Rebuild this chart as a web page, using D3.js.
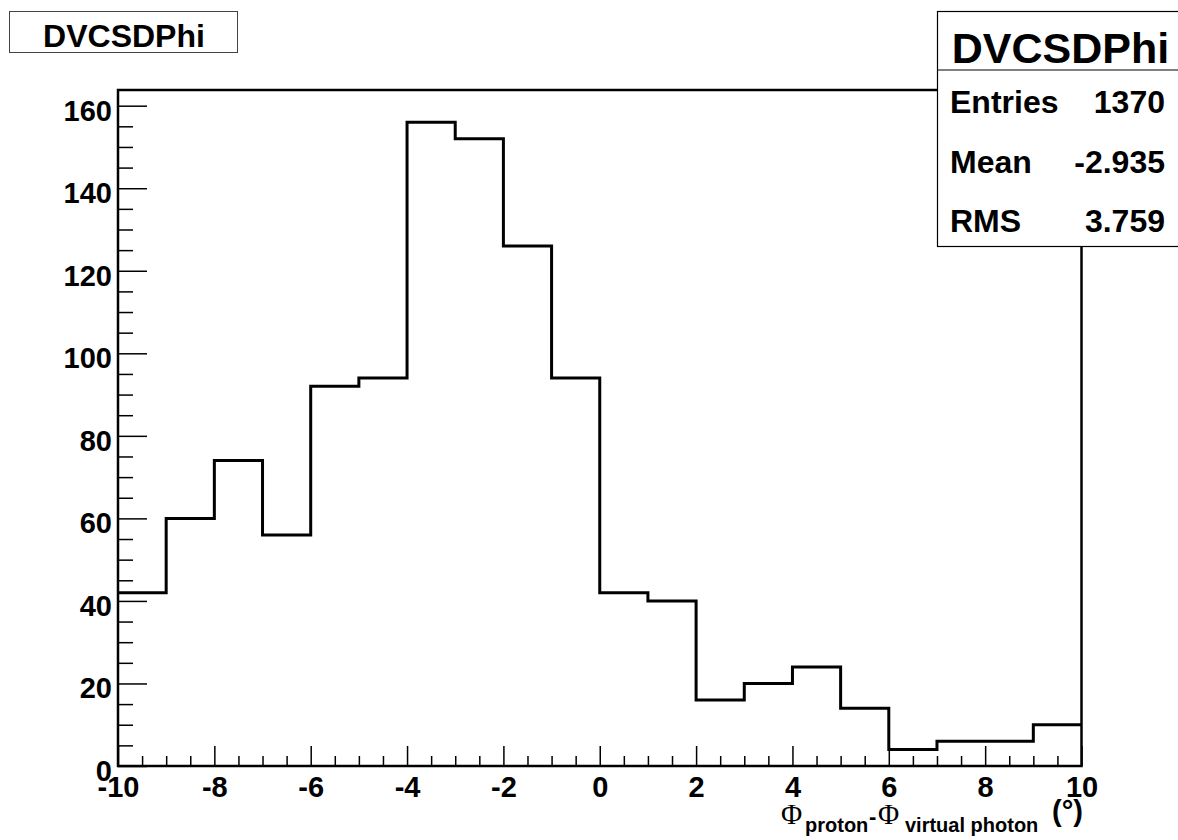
<!DOCTYPE html>
<html>
<head>
<meta charset="utf-8">
<script src="https://cdn.jsdelivr.net/npm/d3@7"></script>
<style>
  html, body { margin: 0; padding: 0; background: #fff; }
  svg { display: block; }
  text { font-family: "Liberation Sans", Arial, sans-serif; font-weight: bold; fill: #000; }
</style>
</head>
<body>
<svg id="chart" width="1178" height="840"></svg>
<script>
// ---- data ----
const binEdgesLow = [-10, -9, -8, -7, -6, -5, -4, -3, -2, -1, 0, 1, 2, 3, 4, 5, 6, 7, 8, 9];
const binCounts   = [42, 60, 74, 56, 92, 94, 156, 152, 126, 94, 42, 40, 16, 20, 24, 14, 4, 6, 6, 10];
const xMajorTicks = [-10, -8, -6, -4, -2, 0, 2, 4, 6, 8, 10];
const yMajorTicks = [0, 20, 40, 60, 80, 100, 120, 140, 160];
const histTitle = "DVCSDPhi";
const statLabels = ["Entries", "Mean", "RMS"];
const statValues = ["1370", "-2.935", "3.759"];

const xMin = -10, xMax = 10, binWidth = 1;
const yMax = 163.8;

const svg = d3.select("#chart");
const L = 118, R = 1081.5, T = 90, B = 766;

const x = d3.scaleLinear().domain([xMin, xMax]).range([L, R]);
const y = d3.scaleLinear().domain([0, yMax]).range([B, T]);

const xMinor = d3.range(xMin, xMax + 0.001, 0.5).filter(v => !xMajorTicks.includes(v));
const yMinor = d3.range(0, yMax, 5).filter(v => !yMajorTicks.includes(v));

// x axis
const gx = svg.append("g").attr("transform", `translate(0,${B})`);
gx.call(d3.axisBottom(x).tickValues(xMajorTicks).tickSizeInner(-20).tickSizeOuter(0).tickPadding(10)
  .tickFormat(d3.format("d")));
gx.select(".domain").remove();
gx.selectAll(".tick line").attr("stroke", "#000").attr("stroke-width", 1.5);
gx.selectAll(".tick text").style("font-size", "29px").style("font-family", "'Liberation Sans', Arial, sans-serif").style("font-weight", "bold")
  .text(d => d < 0 ? "-" + Math.abs(d) : d);

const gxm = svg.append("g").attr("transform", `translate(0,${B})`);
gxm.call(d3.axisBottom(x).tickValues(xMinor).tickSizeInner(-10).tickSizeOuter(0).tickFormat(""));
gxm.select(".domain").remove();
gxm.selectAll(".tick line").attr("stroke", "#000").attr("stroke-width", 1.5);

// y axis
const gy = svg.append("g").attr("transform", `translate(${L},0)`);
gy.call(d3.axisLeft(y).tickValues(yMajorTicks).tickSizeInner(-29).tickSizeOuter(0).tickPadding(6)
  .tickFormat(d3.format("d")));
gy.select(".domain").remove();
gy.selectAll(".tick line").attr("stroke", "#000").attr("stroke-width", 1.5);
gy.selectAll(".tick text").style("font-size", "29px").style("font-family", "'Liberation Sans', Arial, sans-serif").style("font-weight", "bold")
  .attr("dy", "0.5em");

const gym = svg.append("g").attr("transform", `translate(${L},0)`);
gym.call(d3.axisLeft(y).tickValues(yMinor).tickSizeInner(-15).tickSizeOuter(0).tickFormat(""));
gym.select(".domain").remove();
gym.selectAll(".tick line").attr("stroke", "#000").attr("stroke-width", 1.5);

// frame
svg.append("rect").attr("x", L).attr("y", T).attr("width", R - L).attr("height", B - T)
  .attr("fill", "none").attr("stroke", "#000").attr("stroke-width", 2.5);

// histogram step line
const pts = binEdgesLow.map((e, i) => [e, binCounts[i]]);
pts.push([binEdgesLow[binEdgesLow.length - 1] + binWidth, binCounts[binCounts.length - 1]]);
const line = d3.line().x(d => x(d[0])).y(d => y(d[1])).curve(d3.curveStepAfter);
svg.append("path").attr("d", line(pts)).attr("fill", "none").attr("stroke", "#000")
  .attr("stroke-width", 3).attr("stroke-linejoin", "miter");

// title box
svg.append("rect").attr("x", 9.5).attr("y", 11.5).attr("width", 228).attr("height", 41)
  .attr("fill", "#fff").attr("stroke", "#444").attr("stroke-width", 1);
svg.append("text").attr("x", 124).attr("y", 46.5).attr("text-anchor", "middle")
  .style("font-size", "32px").text(histTitle);

// stats box
const sx = 937.5, sy = 11.5, sw = 1178 - 937.5 + 2, sh = 235;
svg.append("rect").attr("x", sx).attr("y", sy).attr("width", sw).attr("height", sh)
  .attr("fill", "#fff").attr("stroke", "#000").attr("stroke-width", 1.2);
svg.append("line").attr("x1", sx).attr("x2", 1178).attr("y1", 70).attr("y2", 70)
  .attr("stroke", "#000").attr("stroke-width", 1.2);
svg.append("text").attr("x", 1060.5).attr("y", 63).attr("text-anchor", "middle")
  .style("font-size", "43px").text(histTitle);
const rowBase = [113, 173, 231.5];
statLabels.forEach((lab, i) => {
  svg.append("text").attr("x", 950).attr("y", rowBase[i]).style("font-size", "32px").text(lab);
  svg.append("text").attr("x", 1165).attr("y", rowBase[i]).attr("text-anchor", "end")
    .style("font-size", "32px").text(statValues[i]);
});

// x-axis title
const serif = "'Liberation Serif', 'Times New Roman', serif";
const xt = svg.append("text").attr("y", 824);
xt.append("tspan").attr("x", 781).style("font-family", serif).style("font-weight", "normal").style("font-size", "29px").text("Φ");
xt.append("tspan").attr("x", 805).attr("dy", 8).style("font-size", "20px").text("proton");
xt.append("tspan").attr("x", 869).attr("dy", -8).style("font-size", "22px").text("-");
xt.append("tspan").attr("x", 878).style("font-family", serif).style("font-weight", "normal").style("font-size", "29px").text("Φ");
xt.append("tspan").attr("x", 905).attr("dy", 8).style("font-size", "20px").text("virtual photon");
xt.append("tspan").attr("x", 1052).attr("dy", -11).style("font-size", "29px").text("(°)");
</script>
</body>
</html>
